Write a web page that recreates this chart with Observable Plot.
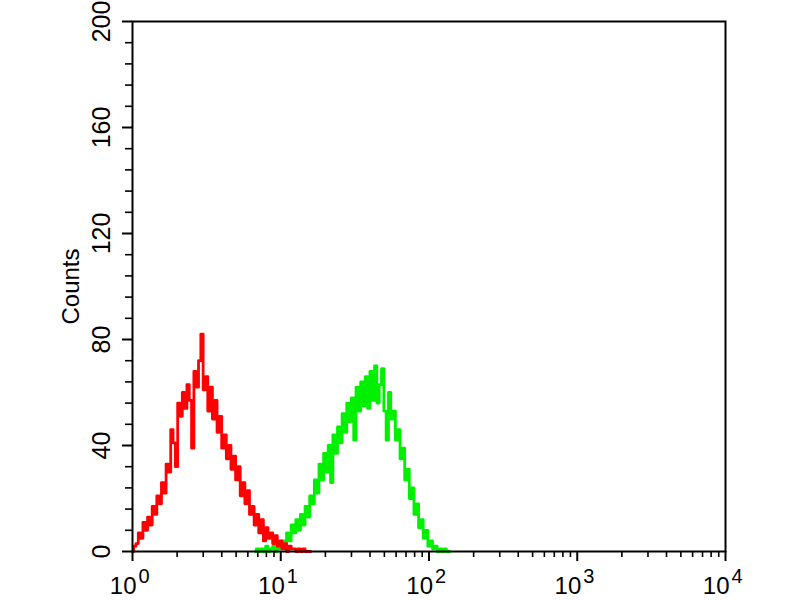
<!DOCTYPE html>
<html><head><meta charset="utf-8">
<script src="https://cdn.jsdelivr.net/npm/d3@7"></script>
<script src="https://cdn.jsdelivr.net/npm/@observablehq/plot@0.6"></script>
<style>body{margin:0;background:#fff}</style>
</head><body><div id="chart"></div>
<script>
// histogram channels (log scale, channels per decade)
const channelsPerDecade = 64;
const redStart = 0;
const redCounts = [0,2,3,7,5,11,8,13,10,17,
  14,21,18,26,22,33,30,46,41,32,
  56,51,60,54,63,57,39,68,62,72,
  82,61,66,53,62,50,57,45,51,39,
  44,35,40,31,36,27,32,21,26,18,
  23,14,17,10,14,7,12,4,9,5,
  7,3,6,2,4,1,3,0,2,1,
  1,0,1,0,1,0,0,0];
const greenStart = 53;
const greenCounts = [0,1,0,1,0,2,0,1,2,0,
  3,1,4,2,7,4,10,7,12,8,
  14,10,17,13,21,18,27,22,33,27,
  37,30,40,26,44,37,47,41,52,45,
  56,49,58,42,62,53,64,55,66,54,
  68,57,70,56,63,69,53,42,60,50,
  53,42,46,35,39,27,31,20,24,14,
  18,9,12,5,8,2,4,1,2,0,
  1,0,1,0,0];
const xMajor = [1, 10, 100, 1000, 10000];
const xExponents = ["0", "1", "2", "3", "4"];
const xMinor = [2,3,4,5,6,7,8,9,20,30,40,50,60,70,80,90,200,300,400,500,600,700,800,900,2000,3000,4000,5000,6000,7000,8000,9000];
const yMajor = [0, 40, 80, 120, 160, 200];
const yMinor = [8,16,24,32,48,56,64,72,88,96,104,112,128,136,144,152,168,176,184,192];
const yLabel = "Counts";

const rows = (start, counts) => counts.map((c, i) => ({x: Math.pow(10, (start + i) / channelsPerDecade), y: c}));
const red = rows(redStart, redCounts);
const green = rows(greenStart, greenCounts);
const expRows = xMajor.map((v, i) => ({v, e: xExponents[i]}));

const chart = Plot.plot({
  width: 800, height: 600,
  marginLeft: 132, marginRight: 75, marginTop: 21, marginBottom: 49,
  x: {type: "log", domain: [1, 10000]},
  y: {domain: [0, 200]},
  style: {fontFamily: "'Liberation Sans', Arial, sans-serif", background: "white", overflow: "visible", color: "black"},
  marks: [
    Plot.lineY(green, {x: "x", y: "y", stroke: "#00f000", strokeWidth: 2.8, curve: "step"}),
    Plot.lineY(red, {x: "x", y: "y", stroke: "#ff0000", strokeWidth: 2.8, curve: "step"}),
    Plot.axisX(xMajor, {tickSize: 10, tickFormat: () => "", label: null, strokeWidth: 2}),
    Plot.axisX(xMinor, {tickSize: 6, tickFormat: () => "", label: null, strokeWidth: 1.6}),
    Plot.axisY(yMajor, {tickSize: 10, tickFormat: () => "", label: null, strokeWidth: 2}),
    Plot.axisY(yMinor, {tickSize: 7, tickFormat: () => "", label: null, strokeWidth: 1.6}),
    Plot.text(xMajor, {x: d => d, text: () => "10", frameAnchor: "bottom", dy: 42, dx: 4, textAnchor: "end", lineAnchor: "bottom", fontSize: 24, fill: "black"}),
    Plot.text(expRows, {x: "v", text: "e", frameAnchor: "bottom", dy: 31, dx: 6, textAnchor: "start", lineAnchor: "bottom", fontSize: 20, fill: "black"}),
    Plot.text(yMajor, {y: d => d, text: d => String(d), frameAnchor: "left", dx: -31, rotate: -90, textAnchor: "middle", lineAnchor: "middle", fontSize: 25, fill: "black"}),
    Plot.text([yLabel], {text: d => d, frameAnchor: "left", dx: -61, rotate: -90, textAnchor: "middle", lineAnchor: "middle", fontSize: 24, fill: "black"}),
    Plot.frame({stroke: "black", strokeWidth: 2})
  ]
});
document.getElementById("chart").appendChild(chart);
</script>
</body></html>
